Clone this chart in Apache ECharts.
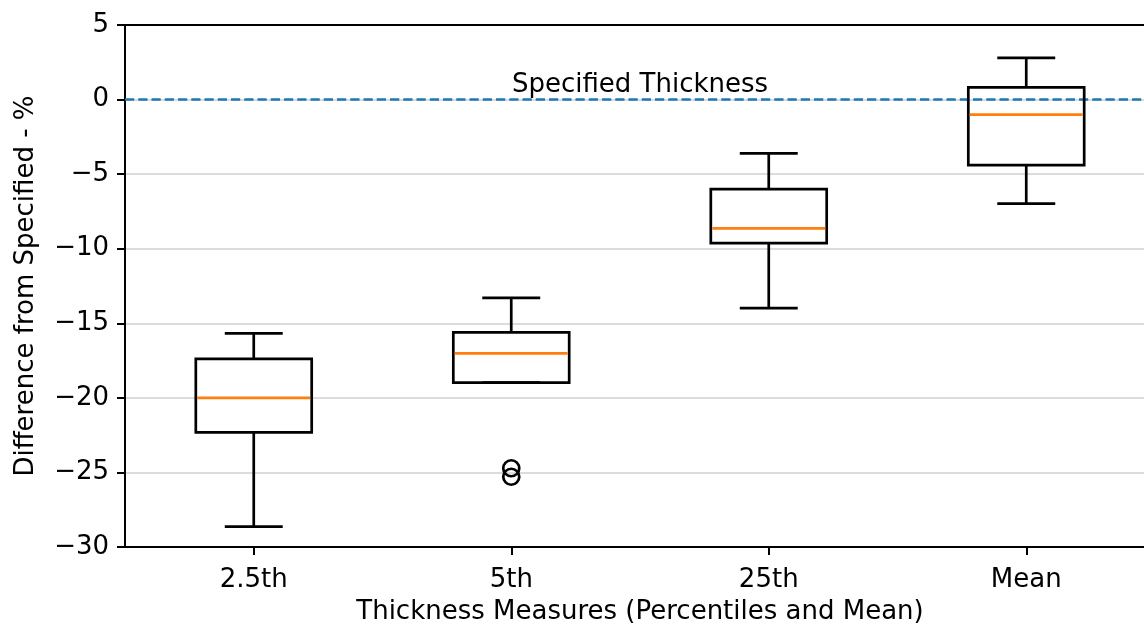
<!DOCTYPE html>
<html>
<head>
<meta charset="utf-8">
<script src="https://cdn.jsdelivr.net/npm/echarts@6/dist/echarts.min.js"></script>
<style>html,body{margin:0;padding:0;background:#fff}#c{width:1144px;height:625px}</style>
</head>
<body>
<div id="c"></div>
<script>
var categories = ['2.5th', '5th', '25th', 'Mean'];
var whiskerLow = [-28.64, -18.98, -13.98, -6.98];
var q1 = [-22.31, -18.98, -9.62, -4.39];
var median = [-20.0, -17.02, -8.63, -1.01];
var q3 = [-17.39, -15.61, -6.0, 0.82];
var whiskerHigh = [-15.67, -13.3, -3.61, 2.79];
var outlierCats = ['5th', '5th'];
var outlierValues = [-24.72, -25.29];
var yTicks = [-30, -25, -20, -15, -10, -5, 0, 5];
var refValue = 0;
var refLabel = 'Specified Thickness';

var FONT = 'DejaVu Sans';
var boxData = categories.map(function (c, i) {
  return [i, whiskerLow[i], q1[i], median[i], q3[i], whiskerHigh[i]];
});
var outlierData = outlierCats.map(function (c, i) { return [c, outlierValues[i]]; });

function renderBox(params, api) {
  var idx = api.value(0);
  var pLow = api.coord([idx, api.value(1)]);
  var pQ1 = api.coord([idx, api.value(2)]);
  var pMed = api.coord([idx, api.value(3)]);
  var pQ3 = api.coord([idx, api.value(4)]);
  var pHigh = api.coord([idx, api.value(5)]);
  var band = api.size([1, 0])[0];
  var hw = band * 0.45 / 2;
  var cw = hw / 2;
  var x = pMed[0];
  var st = { stroke: '#000', lineWidth: 2.7, fill: null };
  return {
    type: 'group',
    children: [
      { type: 'line', shape: { x1: x, y1: pQ1[1], x2: x, y2: pLow[1] }, style: st },
      { type: 'line', shape: { x1: x, y1: pQ3[1], x2: x, y2: pHigh[1] }, style: st },
      { type: 'line', shape: { x1: x - cw, y1: pLow[1], x2: x + cw, y2: pLow[1] }, style: st },
      { type: 'line', shape: { x1: x - cw, y1: pHigh[1], x2: x + cw, y2: pHigh[1] }, style: st },
      { type: 'rect', shape: { x: x - hw, y: pQ3[1], width: 2 * hw, height: pQ1[1] - pQ3[1] }, style: { stroke: '#000', lineWidth: 2.7, fill: 'none' } },
      { type: 'line', shape: { x1: x - hw + 1.5, y1: pMed[1], x2: x + hw - 1.5, y2: pMed[1] }, style: { stroke: '#ff7f0e', lineWidth: 2.7 } }
    ]
  };
}

var chart = echarts.init(document.getElementById('c'), null, { renderer: 'canvas' });
chart.setOption({
  animation: false,
  backgroundColor: '#fff',
  grid: { left: 125, top: 25, right: -11, bottom: 78, containLabel: false, outerBoundsMode: 'none' },
  xAxis: [{
    type: 'category',
    data: categories,
    boundaryGap: true,
    axisLine: { show: true, onZero: false, lineStyle: { color: '#000', width: 2 } },
    axisTick: { show: true, alignWithLabel: true, length: 8, lineStyle: { color: '#000', width: 2 } },
    axisLabel: { fontFamily: FONT, fontSize: 26, color: '#000', margin: 20 },
    splitLine: { show: false },
    name: 'Thickness Measures (Percentiles and Mean)',
    nameLocation: 'middle',
    nameGap: 52,
    nameTextStyle: { fontFamily: FONT, fontSize: 26, color: '#000' }
  }, {
    type: 'category',
    data: categories,
    position: 'top',
    axisLine: { show: true, onZero: false, lineStyle: { color: '#000', width: 2 } },
    axisTick: { show: false },
    axisLabel: { show: false },
    splitLine: { show: false }
  }],
  yAxis: {
    type: 'value',
    min: yTicks[0],
    max: yTicks[yTicks.length - 1],
    interval: 5,
    axisLine: { show: true, onZero: false, lineStyle: { color: '#000', width: 2 } },
    axisTick: { show: true, length: 8, lineStyle: { color: '#000', width: 2 } },
    axisLabel: {
      fontFamily: FONT, fontSize: 26, color: '#000', margin: 16,
      formatter: function (v) { return String(v).replace('-', '\u2212'); }
    },
    splitLine: { show: true, lineStyle: { color: '#dcdcdc', width: 2 } },
    name: 'Difference from Specified - %',
    nameLocation: 'middle',
    nameRotate: 90,
    nameGap: 86,
    nameTextStyle: { fontFamily: FONT, fontSize: 26, color: '#000' }
  },
  series: [{
    type: 'custom',
    renderItem: renderBox,
    data: boxData,
    encode: { x: 0, y: [1, 2, 3, 4, 5] },
    z: 5,
    markLine: {
      silent: true,
      symbol: ['none', 'none'],
      lineStyle: { color: '#1f77b4', width: 2.5, type: [9.25, 4] },
      label: {
        show: true, position: 'middle', formatter: refLabel,
        fontFamily: FONT, fontSize: 26, color: '#000', distance: 1
      },
      data: [{ yAxis: refValue }]
    }
  }, {
    type: 'scatter',
    data: outlierData,
    symbol: 'circle',
    symbolSize: 16,
    itemStyle: { color: 'transparent', borderColor: '#000', borderWidth: 2.7, opacity: 1 },
    z: 6
  }]
});
</script>
</body>
</html>
